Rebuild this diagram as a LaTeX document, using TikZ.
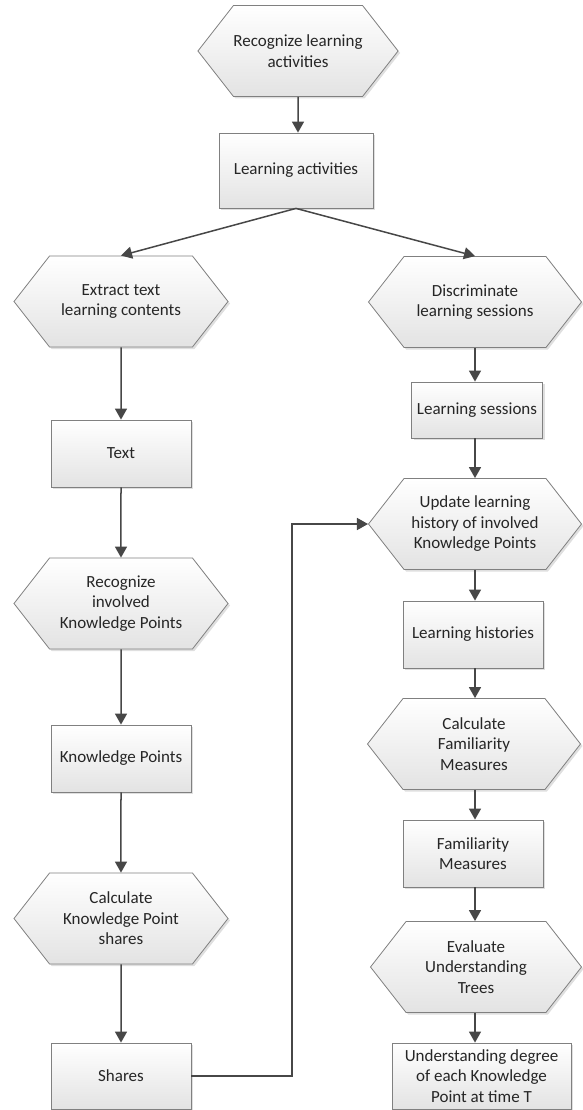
\documentclass[tikz,border=0pt]{standalone}
\usepackage{fontspec}
\setmainfont{Carlito}
\usepackage{tikz}
\usetikzlibrary{shapes,shapes.symbols,arrows.meta,shadows,positioning}

\begin{document}
\begin{tikzpicture}[x=1pt, y=-1pt]
		\tikzstyle{Base}	= [draw=black!50, line width=0.8pt, top color=white, bottom color=black!11, drop shadow={shadow xshift=2pt, shadow yshift=-2pt, opacity=0.25}, text=black!85, font=\fontsize{17}{20.5}\selectfont, align=center, inner sep=0pt]
		\tikzstyle{Task}	= [Base, signal, signal to=west and east, signal pointer angle=104, minimum height=91pt]
		\tikzstyle{Data}	= [Base, rectangle, minimum width=140pt, minimum height=67pt]
		\tikzstyle{Flow}	= [draw=black!72, line width=1.5pt, -{Triangle[length=11pt, width=12pt]}]

		\useasboundingbox (0,0) rectangle (582,1110);

		\node (recog) at (298, 51) [Task][minimum width=200pt] {Recognize learning\\activities};
		\node (acts) at (296, 170.5) [Data][minimum width=154pt, minimum height=75pt] {Learning activities};

		% left column
		\node (ext) at (121, 301.5) [Task][minimum width=214pt] {Extract text\\learning contents};
		\node (txt) at (121, 453.5) [Data] {Text};
		\node (rec) at (121, 603.5) [Task][minimum width=214pt] {Recognize\\involved\\Knowledge Points};
		\node (kp) at (121, 758.5) [Data] {Knowledge Points};
		\node (calc) at (121, 918.5) [Task][minimum width=214pt] {Calculate\\Knowledge Point\\shares};
		\node (shares) at (121, 1076) [Data][minimum height=66pt] {Shares};

		% right column
		\node (disc) at (475, 302) [Task][minimum width=213pt] {Discriminate\\learning sessions};
		\node (sess) at (477, 410) [Data][minimum width=131pt, minimum height=56pt] {Learning sessions};
		\node (upd) at (475, 524) [Task][minimum width=213pt] {Update learning\\history of involved\\Knowledge Points};
		\node (hist) at (473, 634.5) [Data] {Learning histories};
		\node (fam) at (474, 744) [Task][minimum width=213pt] {Calculate\\Familiarity\\Measures};
		\node (famv) at (473, 853.5) [Data] {Familiarity\\Measures};
		\node (eval) at (476, 967) [Task][minimum width=211pt] {Evaluate\\Understanding\\Trees};
		\node (deg) at (481.5, 1076) [Data][minimum width=179pt, minimum height=66pt] {Understanding degree\\of each Knowledge\\Point at time T};

		\coordinate (turn) at (292, 524);

		\draw (recog) to (recog.south |- acts.north) [Flow];
		\draw (acts.south) to (ext.north) [Flow];
		\draw (acts.south) to (disc.north) [Flow];
		\draw (ext) to (txt) [Flow];
		\draw (txt) to (rec) [Flow];
		\draw (rec) to (kp) [Flow];
		\draw (kp) to (calc) [Flow];
		\draw (calc) to (shares) [Flow];
		\draw (shares.east) -| (turn) -- (upd.west) [Flow];
		\draw (disc.south) to (disc.south |- sess.north) [Flow];
		\draw (sess.south -| disc.south) to (upd.north) [Flow];
		\draw (upd.south) to (upd.south |- hist.north) [Flow];
		\draw (hist.south -| upd.south) to (fam.north -| upd.south) [Flow];
		\draw (fam.south -| upd.south) to (famv.north -| upd.south) [Flow];
		\draw (famv.south -| upd.south) to (eval.north -| upd.south) [Flow];
		\draw (eval.south -| upd.south) to (deg.north -| upd.south) [Flow];
	\end{tikzpicture}
\end{document}
